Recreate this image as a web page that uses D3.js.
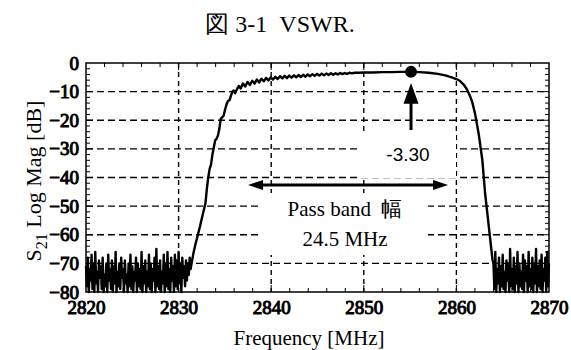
<!DOCTYPE html>
<html lang="ja">
<head>
<meta charset="utf-8">
<title>VSWR</title>
<style type="text/css">
body { margin: 0; background: #fff; }
.grid { stroke: #000; stroke-width: 1.4; fill: none; }
.tick { stroke: #000; stroke-width: 1; }
text { font-family: "Liberation Serif", "Times New Roman", serif; fill: #000; font-weight: normal; }
</style>
<script src="https://cdn.jsdelivr.net/npm/d3@7"></script>
</head>
<body>
<script type="text/javascript">
// sweep data
var noiseLeftFreq = [2820.0,2820.1,2820.2,2820.3,2820.4,2820.5,2820.6,2820.7,2820.8,2820.9,
  2821.0,2821.1,2821.2,2821.3,2821.4,2821.5,2821.6,2821.7,2821.8,2821.9,
  2822.0,2822.1,2822.2,2822.3,2822.4,2822.5,2822.6,2822.7,2822.8,2822.9,
  2823.0,2823.1,2823.2,2823.3,2823.4,2823.5,2823.6,2823.7,2823.8,2823.9,
  2824.0,2824.1,2824.2,2824.3,2824.4,2824.5,2824.6,2824.7,2824.8,2824.9,
  2825.0,2825.1,2825.2,2825.3,2825.4,2825.5,2825.6,2825.7,2825.8,2825.9,
  2826.0,2826.1,2826.2,2826.3,2826.4,2826.5,2826.6,2826.7,2826.8,2826.9,
  2827.0,2827.1,2827.2,2827.3,2827.4,2827.5,2827.6,2827.7,2827.8,2827.9,
  2828.0,2828.1,2828.2,2828.3,2828.4,2828.5,2828.6,2828.7,2828.8,2828.9,
  2829.0,2829.1,2829.2,2829.3,2829.4,2829.5,2829.6,2829.7,2829.8,2829.9,
  2830.0,2830.1,2830.2,2830.3,2830.4,2830.5,2830.6,2830.7,2830.8,2830.9,
  2831.0,2831.1,2831.2,2831.3];
var noiseLeftDb = [-71,-78,-68,-80,-72,-76,-67,-79,-70,-80,-66,-77,-73,-80,-69,-75,-71,-79,-68,-80,
  -74,-78,-70,-80,-67,-76,-72,-79,-69,-80,-71,-77,-66,-80,-73,-78,-70,-79,-68,-75,
  -72,-80,-69,-77,-74,-80,-70,-78,-67,-79,-71,-80,-73,-76,-68,-80,-70,-78,-72,-79,
  -66,-80,-71,-77,-69,-80,-73,-78,-67,-79,-70,-80,-72,-76,-68,-80,-65,-78,-71,-79,
  -69,-80,-73,-77,-67,-80,-70,-78,-66,-79,-72,-80,-68,-76,-71,-80,-67,-78,-69,-79,
  -66,-77,-70,-80,-68,-75,-71,-78,-69,-76,-70,-74,-68,-72];

var passFreq = [2831.4,2831.6,2831.8,2832.0,2832.3,2832.6,2832.9,2833.05,2833.2,2833.35,
  2833.5,2833.65,2833.8,2833.95,2834.1,2834.25,2834.4,2834.55,2834.7,2834.85,
  2835.0,2835.2,2835.35,2835.5,2835.65,2835.8,2835.95,2836.1,2836.3,2836.5,
  2836.7,2836.95,2837.2,2837.45,2837.7,2837.95,2838.2,2838.45,2838.7,2838.95,
  2839.2,2839.45,2839.7,2839.95,2840.2,2840.45,2840.7,2840.95,2841.2,2841.45,
  2841.7,2841.95,2842.2,2842.45,2842.7,2842.95,2843.2,2843.45,2843.7,2843.95,
  2844.2,2844.45,2844.7,2844.95,2845.2,2845.45,2845.7,2845.95,2846.2,2846.45,
  2846.7,2846.95,2847.2,2847.45,2847.7,2847.95,2848.2,2848.45,2848.7,2849.0,
  2849.5,2850.0,2851.0,2852.0,2853.0,2854.0,2855.1,2856.0,2857.0,2858.0,
  2858.8,2859.5,2860.0,2860.4,2860.8,2861.1,2861.4,2861.7,2862.0,2862.4,
  2862.8,2863.1,2863.5,2863.9];
var passDb = [-70,-66.5,-63.6,-61,-57.2,-53,-49,-44,-40,-37,
  -35.5,-32,-29.5,-27,-26.5,-25.3,-23,-19.5,-19,-18.5,
  -16.5,-14.2,-13.2,-13,-11.5,-10,-9.6,-10.6,-9.2,-8,
  -8.9,-7.2,-8.2,-6.6,-7.7,-6.2,-7.2,-5.8,-6.8,-5.5,
  -6.4,-5.2,-6.1,-5.0,-5.8,-4.8,-5.6,-4.6,-5.4,-4.5,
  -5.3,-4.4,-5.1,-4.3,-5.0,-4.2,-4.9,-4.1,-4.8,-4.0,
  -4.6,-3.9,-4.5,-3.8,-4.4,-3.7,-4.3,-3.7,-4.2,-3.6,
  -4.1,-3.6,-4.0,-3.5,-3.9,-3.5,-3.8,-3.4,-3.6,-3.4,
  -3.4,-3.3,-3.3,-3.2,-3.2,-3.1,-3.1,-3.2,-3.4,-3.8,
  -4.3,-5.0,-5.6,-6.3,-7.6,-9.0,-11.0,-13.5,-17.5,-24.6,
  -33.9,-45.5,-57.2,-68.8];

var noiseRightFreq = [2864.0,2864.1,2864.2,2864.3,2864.4,2864.5,2864.6,2864.7,2864.8,2864.9,
  2865.0,2865.1,2865.2,2865.3,2865.4,2865.5,2865.6,2865.7,2865.8,2865.9,
  2866.0,2866.1,2866.2,2866.3,2866.4,2866.5,2866.6,2866.7,2866.8,2866.9,
  2867.0,2867.1,2867.2,2867.3,2867.4,2867.5,2867.6,2867.7,2867.8,2867.9,
  2868.0,2868.1,2868.2,2868.3,2868.4,2868.5,2868.6,2868.7,2868.8,2868.9,
  2869.0,2869.1,2869.2,2869.3,2869.4,2869.5,2869.6,2869.7,2869.8,2869.9,2870.0];
var noiseRightDb = [-70,-79,-66,-80,-72,-77,-68,-80,-71,-78,-67,-79,-73,-80,-69,-76,-70,-80,-65,-78,
  -72,-79,-68,-80,-71,-77,-66,-80,-70,-78,-73,-79,-67,-80,-69,-76,-71,-80,-66,-78,
  -72,-79,-68,-80,-70,-77,-65,-80,-71,-78,-69,-79,-67,-80,-72,-76,-68,-80,-66,-78,-70];

var xTicks = [2820,2830,2840,2850,2860,2870];
var yTicks = [0,-10,-20,-30,-40,-50,-60,-70,-80];
var markerFreq = 2855.1, markerDb = -3.1, markerText = "-3.30";
var bandFrom = 2837.5, bandTo = 2859.1, bandDb = -42.6;

var w = 571, h = 350;
var pLeft = 86, pRight = 549, pTop = 63, pBottom = 292;
var serif = "Liberation Serif";

var svg = d3.select("body").append("svg")
            .attr("width", w).attr("height", h);

var x = d3.scaleLinear().domain([2820, 2870]).range([pLeft, pRight]);
var y = d3.scaleLinear().domain([-80, 0]).range([pBottom, pTop]);

// dashed grid
svg.append("g").selectAll("line").data([2830,2840,2850,2860]).enter().append("line")
   .attr("class", "grid").attr("stroke-dasharray", "5,4")
   .attr("x1", function(d){ return x(d); }).attr("x2", function(d){ return x(d); })
   .attr("y1", pTop).attr("y2", pBottom);
svg.append("g").selectAll("line").data([-10,-20,-30,-40,-50,-60,-70]).enter().append("line")
   .attr("class", "grid").attr("stroke-dasharray", "7,4")
   .attr("x1", pLeft).attr("x2", pRight)
   .attr("y1", function(d){ return y(d); }).attr("y2", function(d){ return y(d); });

// white patches behind the annotation text
svg.append("rect").attr("x", 360).attr("y", 132).attr("width", 96).attr("height", 46).attr("fill", "#fff");
svg.append("rect").attr("x", 260).attr("y", 193).attr("width", 168).attr("height", 62).attr("fill", "#fff");

// inward ticks
var xMinor = d3.range(2822, 2870, 2), yMinor = d3.range(-78, 0, 2);
var tk = svg.append("g");
tk.selectAll(".xb").data(xMinor).enter().append("line").attr("class", "tick")
  .attr("x1", function(d){ return x(d); }).attr("x2", function(d){ return x(d); })
  .attr("y1", pBottom).attr("y2", function(d){ return d % 10 ? pBottom - 4 : pBottom - 7; });
tk.selectAll(".xt").data(xMinor).enter().append("line").attr("class", "tick")
  .attr("x1", function(d){ return x(d); }).attr("x2", function(d){ return x(d); })
  .attr("y1", pTop).attr("y2", function(d){ return d % 10 ? pTop + 4 : pTop + 7; });
tk.selectAll(".yl").data(yMinor).enter().append("line").attr("class", "tick")
  .attr("y1", function(d){ return y(d); }).attr("y2", function(d){ return y(d); })
  .attr("x1", pLeft).attr("x2", function(d){ return d % 10 ? pLeft + 4 : pLeft + 7; });
tk.selectAll(".yr").data(yMinor).enter().append("line").attr("class", "tick")
  .attr("y1", function(d){ return y(d); }).attr("y2", function(d){ return y(d); })
  .attr("x1", pRight).attr("x2", function(d){ return d % 10 ? pRight - 4 : pRight - 7; });

// frame
svg.append("rect").attr("x", pLeft).attr("y", pTop)
   .attr("width", pRight - pLeft).attr("height", pBottom - pTop)
   .attr("fill", "none").attr("stroke", "#000").attr("stroke-width", 1.5);

// axis labels via d3 axes, lines hidden
var xAxis = svg.append("g").attr("transform", "translate(0," + pBottom + ")")
   .call(d3.axisBottom(x).tickValues(xTicks).tickSize(0).tickPadding(9).tickFormat(d3.format("d")));
var yAxis = svg.append("g").attr("transform", "translate(" + pLeft + ",0)")
   .call(d3.axisLeft(y).tickValues(yTicks).tickSize(0).tickPadding(7).tickFormat(d3.format("d")));
[xAxis, yAxis].forEach(function(a){
  a.select(".domain").remove();
  a.attr("font-family", null).attr("font-size", null);
  a.selectAll("text").style("font-family", serif).style("font-size", "19px")
   .attr("fill", "#000");
});

// trace
var pts = [];
noiseLeftFreq.forEach(function(f, i){ pts.push([f, noiseLeftDb[i]]); });
passFreq.forEach(function(f, i){ pts.push([f, passDb[i]]); });
noiseRightFreq.forEach(function(f, i){ pts.push([f, noiseRightDb[i]]); });

var line = d3.line().x(function(d){ return x(d[0]); }).y(function(d){ return y(d[1]); });
svg.append("path").datum(pts).attr("d", line)
   .attr("fill", "none").attr("stroke", "#000").attr("stroke-width", 2.4)
   .attr("stroke-linejoin", "round");

// marker + arrow
svg.append("circle").attr("cx", x(markerFreq)).attr("cy", y(markerDb)).attr("r", 6).attr("fill", "#000");
var ax = x(markerFreq);
svg.append("line").attr("x1", ax).attr("x2", ax).attr("y1", y(-23.4)).attr("y2", y(-13.8))
   .attr("stroke", "#000").attr("stroke-width", 3);
svg.append("path").attr("fill", "#000")
   .attr("d", "M" + ax + "," + y(-7.0) + "L" + (ax - 7.5) + "," + y(-14.2) + "L" + (ax + 7.5) + "," + y(-14.2) + "Z");
svg.append("text").attr("x", ax - 3).attr("y", 161).attr("text-anchor", "middle")
   .style("font-family", "'Liberation Sans', Arial, sans-serif").style("font-size", "19px").text(markerText);

// pass band double arrow
var by = y(bandDb), bx1 = x(bandFrom), bx2 = x(bandTo);
svg.append("line").attr("x1", bx1 + 12).attr("x2", bx2 - 12).attr("y1", by).attr("y2", by)
   .attr("stroke", "#000").attr("stroke-width", 3);
svg.append("path").attr("fill", "#000")
   .attr("d", "M" + bx1 + "," + by + "L" + (bx1 + 15) + "," + (by - 5) + "L" + (bx1 + 15) + "," + (by + 5) + "Z");
svg.append("path").attr("fill", "#000")
   .attr("d", "M" + bx2 + "," + by + "L" + (bx2 - 15) + "," + (by - 5) + "L" + (bx2 - 15) + "," + (by + 5) + "Z");
svg.append("text").attr("x", 345).attr("y", 216).attr("text-anchor", "middle")
   .style("font-size", "21px").style("white-space", "pre").text("Pass band  幅");
svg.append("text").attr("x", 345).attr("y", 246).attr("text-anchor", "middle")
   .style("font-size", "21px").text("24.5 MHz");

// titles
svg.append("text").attr("x", 280).attr("y", 32).attr("text-anchor", "middle")
   .style("font-size", "24px").style("white-space", "pre").text("図 3-1  VSWR.");
svg.append("text").attr("x", 309).attr("y", 345).attr("text-anchor", "middle")
   .style("font-size", "21px").text("Frequency [MHz]");
var yt = svg.append("text").attr("text-anchor", "middle")
   .attr("transform", "translate(41,181) rotate(-90)").style("font-size", "22px");
yt.append("tspan").text("S");
yt.append("tspan").attr("dy", 6).style("font-size", "16px").text("21");
yt.append("tspan").attr("dy", -6).text(" Log Mag [dB]");
</script>
</body>
</html>
